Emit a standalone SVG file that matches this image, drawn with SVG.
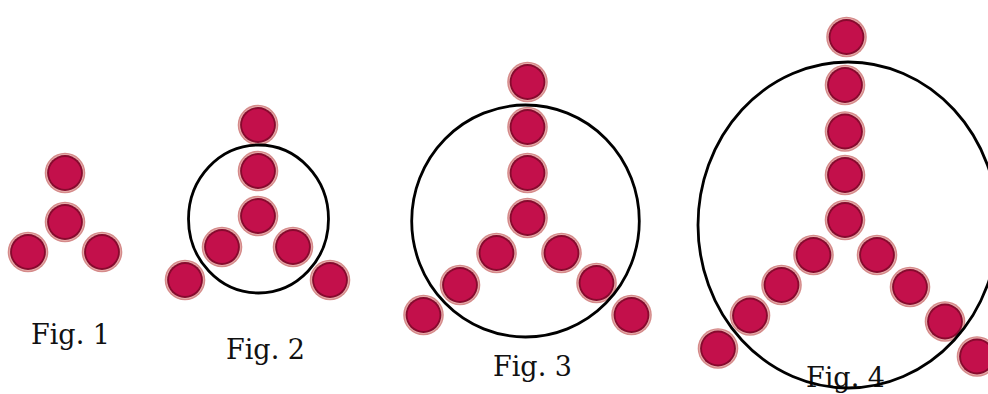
<svg xmlns="http://www.w3.org/2000/svg" xmlns:xlink="http://www.w3.org/1999/xlink" width="988" height="394" viewBox="0 0 988 394">
<style>
.ring{fill:none;stroke:#000;stroke-width:2.8}
.lbl{font-family:"DejaVu Serif","Liberation Serif",serif;font-size:27px;fill:#111}
</style>
<defs>
<g id="dot">
<circle r="20.3" fill="#D58A8A"/>
<circle r="18.9" fill="#E6AEAB"/>
<circle r="17.9" fill="#870A2E"/>
<circle r="16" fill="#C3104B"/>
</g>
</defs>
<rect width="988" height="394" fill="#fff"/>
<g id="fig1">
<use xlink:href="#dot" x="65" y="173"/>
<use xlink:href="#dot" x="65" y="222"/>
<use xlink:href="#dot" x="28" y="252"/>
<use xlink:href="#dot" x="102" y="252"/>
<text class="lbl" x="31" y="344">Fig. 1</text>
</g>
<g id="fig2">
<use xlink:href="#dot" x="258" y="125"/>
<use xlink:href="#dot" x="258" y="171"/>
<use xlink:href="#dot" x="258" y="216"/>
<use xlink:href="#dot" x="222" y="247"/>
<use xlink:href="#dot" x="293" y="247"/>
<use xlink:href="#dot" x="185" y="280"/>
<use xlink:href="#dot" x="330" y="280"/>
<ellipse class="ring" cx="258.5" cy="219" rx="70" ry="74"/>
<text class="lbl" x="226" y="359">Fig. 2</text>
</g>
<g id="fig3">
<use xlink:href="#dot" x="527.5" y="82"/>
<use xlink:href="#dot" x="527.5" y="127"/>
<use xlink:href="#dot" x="527.5" y="173"/>
<use xlink:href="#dot" x="527.5" y="218"/>
<use xlink:href="#dot" x="496.5" y="253"/>
<use xlink:href="#dot" x="460" y="285"/>
<use xlink:href="#dot" x="423.5" y="315"/>
<use xlink:href="#dot" x="561.5" y="253"/>
<use xlink:href="#dot" x="596.5" y="283"/>
<use xlink:href="#dot" x="631.5" y="315"/>
<ellipse class="ring" cx="525.5" cy="221" rx="113.8" ry="116"/>
<text class="lbl" x="493" y="376">Fig. 3</text>
</g>
<g id="fig4">
<use xlink:href="#dot" x="846.5" y="37"/>
<use xlink:href="#dot" x="845" y="85"/>
<use xlink:href="#dot" x="845" y="131.5"/>
<use xlink:href="#dot" x="845" y="175"/>
<use xlink:href="#dot" x="845" y="220"/>
<use xlink:href="#dot" x="813.5" y="255"/>
<use xlink:href="#dot" x="781.5" y="285"/>
<use xlink:href="#dot" x="750" y="315.5"/>
<use xlink:href="#dot" x="718" y="348.5"/>
<use xlink:href="#dot" x="877" y="255"/>
<use xlink:href="#dot" x="910" y="287"/>
<use xlink:href="#dot" x="945" y="321.5"/>
<use xlink:href="#dot" x="977" y="356.5"/>
<text class="lbl" x="806" y="387">Fig. 4</text>
<ellipse class="ring" cx="848" cy="225" rx="150" ry="163"/>
</g>
</svg>
